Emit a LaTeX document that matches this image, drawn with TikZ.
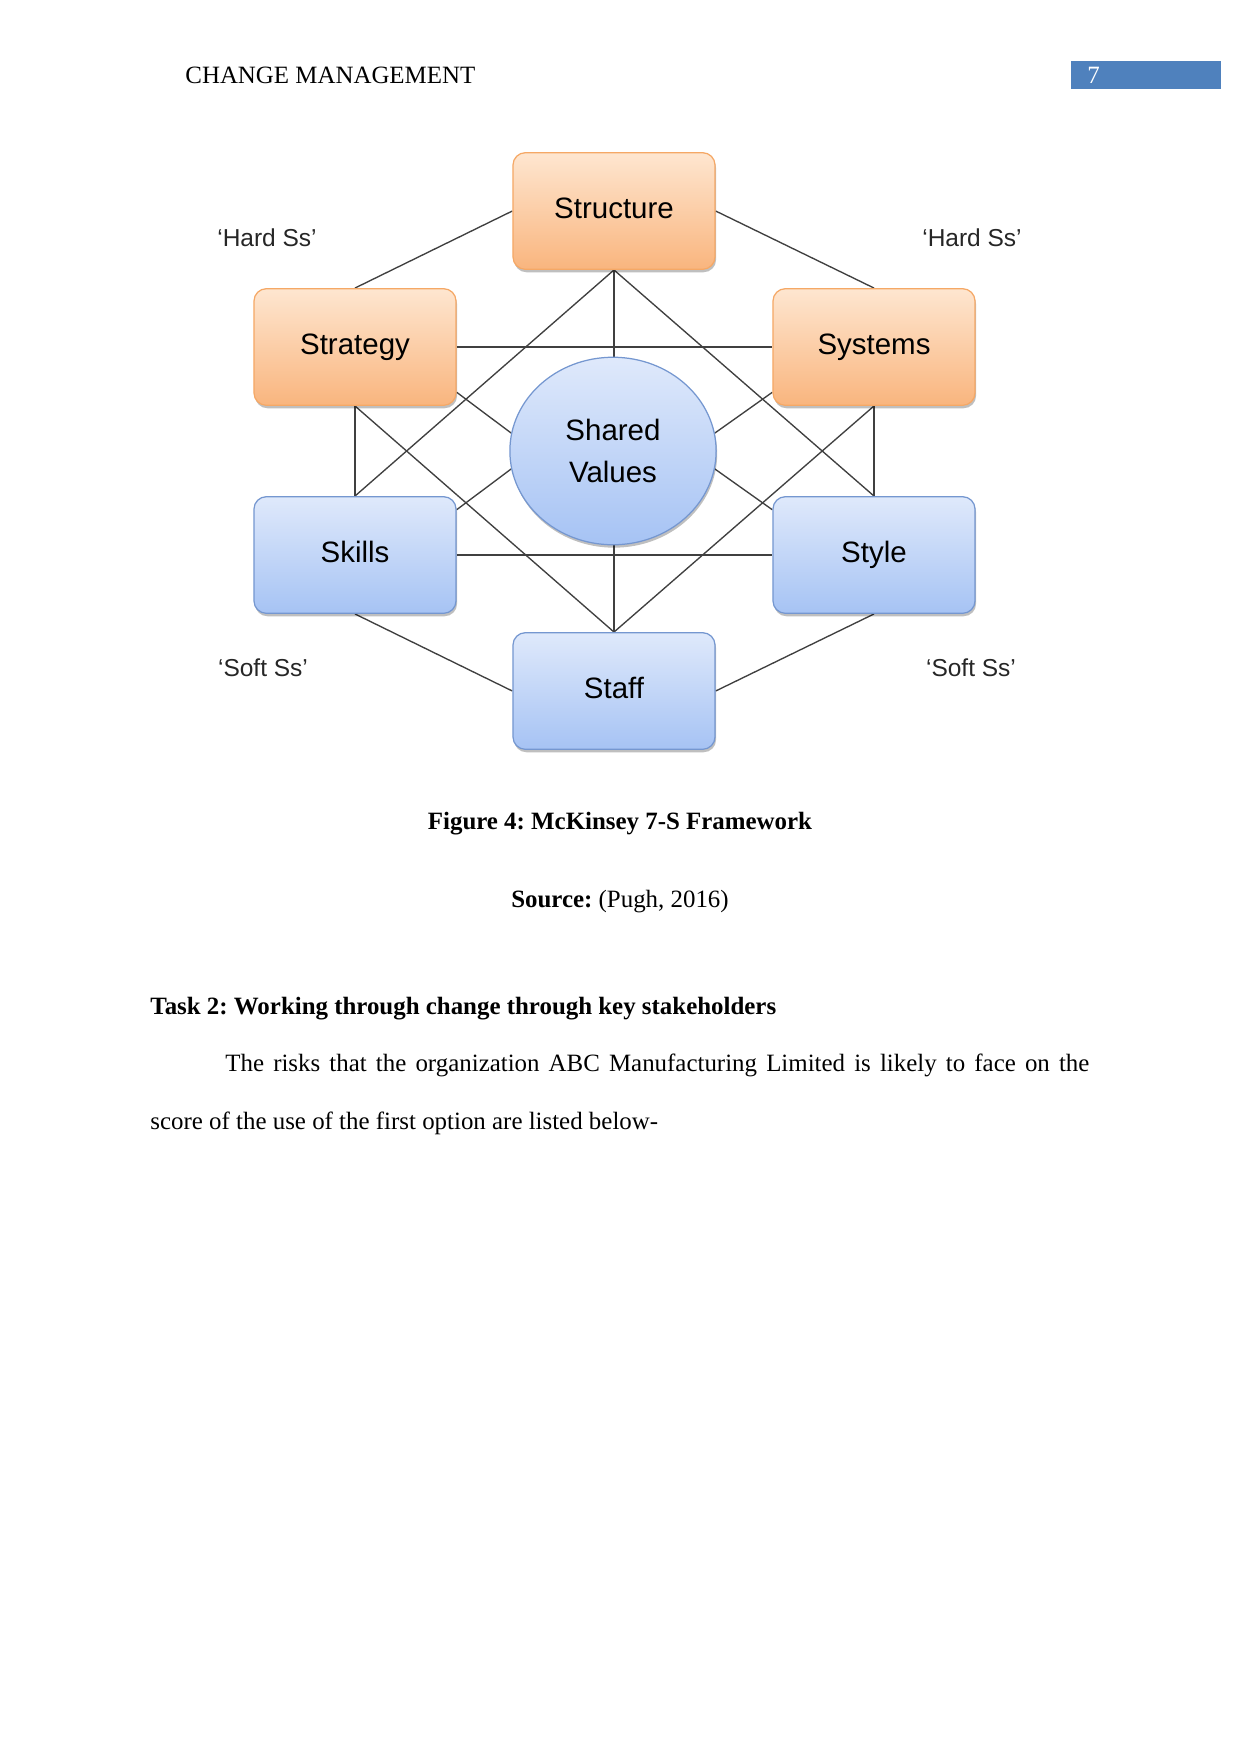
\documentclass[tikz,border=0pt]{standalone}
\usepackage{fontspec}
\setmainfont{Liberation Serif}
\newfontfamily\arialf{Liberation Sans}
\usetikzlibrary{shapes.geometric,shadows,backgrounds}
\definecolor{orTop}{HTML}{FEE6D0}
\definecolor{orBot}{HTML}{F9B57E}
\definecolor{orBorder}{HTML}{F5A866}
\definecolor{blTop}{HTML}{DFE9FB}
\definecolor{blBot}{HTML}{A6C3F4}
\definecolor{blBorder}{HTML}{7597D0}
\definecolor{lineGray}{HTML}{404040}
\definecolor{pageBlue}{HTML}{4F81BD}
\frenchspacing
\begin{document}
\begin{tikzpicture}[x=0.48bp,y=-0.48bp,
  box/.style={rectangle, rounded corners=6bp, minimum width=97bp, minimum height=56bp,
    inner sep=0pt, font=\arialf\fontsize{14.2}{17}\selectfont, line width=0.6bp,
    text height=10.2bp, text depth=3bp,
    drop shadow={shadow xshift=0.5bp, shadow yshift=-1.4bp, opacity=0.25, fill=black}},
  hardbox/.style={box, draw=orBorder, top color=orTop, bottom color=orBot},
  softbox/.style={box, draw=blBorder, top color=blTop, bottom color=blBot},
  link/.style={draw=lineGray, line width=0.65bp},
  sslabel/.style={font=\arialf\fontsize{11.8}{14}\selectfont, text=black!85},
  body/.style={font=\fontsize{12}{14}\selectfont, inner sep=0pt}
]
\path[use as bounding box] (0,0) rectangle (1241,1754);

% header
\node[body, anchor=base west] (hdr) at (185,83) {CHANGE MANAGEMENT};
\node[fill=pageBlue, minimum width=72bp, minimum height=13bp, inner sep=0pt, anchor=north west] (pgbox) at (1071,61) {};
\node[body, anchor=base west, text=white] (pgnum) at (1087,83) {7};

% boxes
\node[hardbox] (structure) at (614,211) {Structure};
\node[hardbox] (strategy) at (355,347) {Strategy};
\node[hardbox] (systems) at (874,347) {Systems};
\node[softbox] (skills) at (355,555) {Skills};
\node[softbox] (style) at (874,555) {Style};
\node[softbox] (staff) at (614,691) {Staff};
\node[ellipse, minimum width=99bp, minimum height=90bp, inner sep=0pt, line width=0.6bp,
  draw=blBorder, top color=blTop, bottom color=blBot, align=center,
  font=\arialf\fontsize{14.2}{20}\selectfont,
  drop shadow={shadow xshift=0.5bp, shadow yshift=-1.4bp, opacity=0.25, fill=black}]
  (sv) at (613,451) {Shared\\Values};

% labels
\node[sslabel] (hardl) at (267,238) {‘Hard Ss’};
\node[sslabel] (hardr) at (972,238) {‘Hard Ss’};
\node[sslabel] (softl) at (263,668) {‘Soft Ss’};
\node[sslabel] (softr) at (971,668) {‘Soft Ss’};

% connectors
\begin{scope}[on background layer]
\draw[link] (structure.west) -- (strategy.north);
\draw[link] (structure.east) -- (systems.north);
\draw[link] (skills.south) -- (staff.west);
\draw[link] (staff.east) -- (style.south);
\draw[link] (strategy.south) -- (skills.north);
\draw[link] (systems.south) -- (style.north);
\draw[link] (structure.south) -- (staff.north);
\draw[link] (strategy.east) -- (systems.west);
\draw[link] (skills.east) -- (style.west);
\draw[link] (structure.south) -- (skills.north);
\draw[link] (structure.south) -- (style.north);
\draw[link] (staff.north) -- (strategy.south);
\draw[link] (staff.north) -- (systems.south);
\draw[link] (strategy.-24) -- (sv.170);
\draw[link] (skills.24) -- (sv.190);
\draw[link] (systems.204) -- (sv.10);
\draw[link] (style.156) -- (sv.-10);
\end{scope}

% caption and text
\node[body, anchor=base] (cap) at (620,829) {\textbf{Figure 4: McKinsey 7-S Framework}};
\node[body, anchor=base] (src) at (620,907) {\textbf{Source:} (Pugh, 2016)};
\node[body, anchor=base west] (task) at (150,1014) {\textbf{Task 2: Working through change through key stakeholders}};
\node[body, anchor=base west] (l1) at (225,1071) {\makebox[414.7bp][s]{The risks that the organization ABC Manufacturing Limited is likely to face on the}};
\node[body, anchor=base west] (l2) at (150,1129) {score of the use of the first option are listed below-};
\end{tikzpicture}
\end{document}
